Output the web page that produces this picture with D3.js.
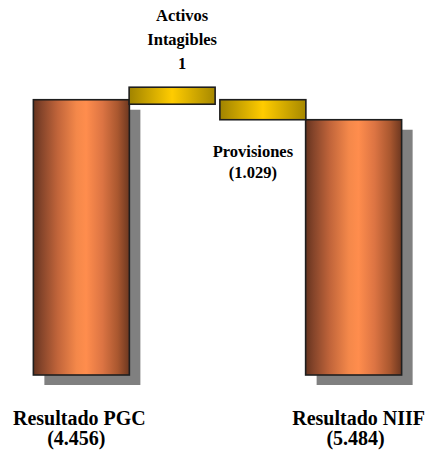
<!DOCTYPE html>
<html>
<head>
<meta charset="utf-8">
<script src="https://cdn.jsdelivr.net/npm/d3@7"></script>
<style>
  html, body { margin: 0; padding: 0; background: #ffffff; }
  svg { display: block; }
  text { font-family: "Liberation Serif", "DejaVu Serif", "Times New Roman", serif; font-weight: bold; fill: #000; }
</style>
</head>
<body>
<svg id="chart" width="428" height="450"></svg>
<script>
// Puente de resultados PGC -> NIIF (miles de euros, pérdidas entre paréntesis)
const categories = ["Resultado PGC", "Activos Intagibles", "Provisiones", "Resultado NIIF"];
const kinds      = ["total", "step", "step", "total"];
const values     = [-4456, 1, -1029, -5484];
const labelLines = [
  ["Resultado PGC", "(4.456)"],
  ["Activos", "Intagibles", "1"],
  ["Provisiones", "(1.029)"],
  ["Resultado NIIF", "(5.484)"]
];

// Running totals for the floating steps
let running = 0;
const rows = categories.map((c, i) => {
  let start, end;
  if (kinds[i] === "total") { start = null; end = values[i]; running = values[i]; }
  else { start = running; end = running + values[i]; running = end; }
  return { cat: c, kind: kinds[i], value: values[i], start, end, lines: labelLines[i] };
});

const svg = d3.select("#chart");
const baseY = 375;

const x = d3.scaleBand().domain(categories).range([36, 399]).paddingInner(0).paddingOuter(0);
// truncated value axis: the floor of the plot sits well below the results
const y = d3.scaleLinear().domain([-18600, 0]).range([baseY, 13]);

const defs = svg.append("defs");
const copper = defs.append("linearGradient").attr("id", "copper").attr("x1", "0%").attr("x2", "100%");
[[0, "#65331e"], [0.08, "#84442a"], [0.25, "#c0643a"], [0.45, "#f4884a"], [0.55, "#ff8d4d"],
 [0.72, "#dc7443"], [0.88, "#a9572f"], [1, "#6c3720"]]
  .forEach(([o, c]) => copper.append("stop").attr("offset", o).attr("stop-color", c));
const gold = defs.append("linearGradient").attr("id", "gold").attr("x1", "0%").attr("x2", "100%");
[[0, "#a08300"], [0.5, "#ffcc00"], [1, "#a68800"]]
  .forEach(([o, c]) => gold.append("stop").attr("offset", o).attr("stop-color", c));

const totalW = 96, stepW = 86, minStepH = 17;

const totals = rows.filter(d => d.kind === "total");
const steps = rows.filter(d => d.kind === "step");
const cx = d => x(d.cat) + x.bandwidth() / 2;

// drop shadows of the result columns
svg.append("g").selectAll("rect").data(totals).join("rect")
  .attr("x", d => cx(d) - totalW / 2 + 11)
  .attr("y", d => y(d.end) + 10)
  .attr("width", totalW)
  .attr("height", d => baseY - y(d.end))
  .attr("fill", "#808080");

// result columns
svg.append("g").selectAll("rect").data(totals).join("rect")
  .attr("x", d => cx(d) - totalW / 2)
  .attr("y", d => y(d.end))
  .attr("width", totalW)
  .attr("height", d => baseY - y(d.end))
  .attr("fill", "url(#copper)")
  .attr("stroke", "#1e1e1e")
  .attr("stroke-width", 1.6);

// floating adjustments (tiny steps get a minimum visible height)
const stepBox = d => {
  const a = y(d.start), b = y(d.end);
  let top = Math.min(a, b), h = Math.abs(a - b);
  if (h < minStepH) { top = (a + b) / 2 - minStepH / 2 - 4; h = minStepH; }
  return { top, h };
};
svg.append("g").selectAll("rect").data(steps).join("rect")
  .attr("x", d => cx(d) - stepW / 2)
  .attr("y", d => stepBox(d).top)
  .attr("width", stepW)
  .attr("height", d => stepBox(d).h)
  .attr("fill", "url(#gold)")
  .attr("stroke", "#1e1e1e")
  .attr("stroke-width", 1.6);

// labels under the result columns
const bottomShift = { "Resultado PGC": -2, "Resultado NIIF": 5 };
totals.forEach(d => {
  const t = svg.append("text").attr("text-anchor", "middle").attr("font-size", 20);
  d.lines.forEach((ln, i) => {
    t.append("tspan").attr("x", cx(d) + bottomShift[d.cat] - (i ? 3 : 0)).attr("y", 425 + i * 20).text(ln);
  });
});

// labels of the adjustments: rising step above, falling step below
steps.forEach(d => {
  const box = stepBox(d);
  const t = svg.append("text").attr("text-anchor", "middle").attr("font-size", 16.5);
  const n = d.lines.length;
  if (d.value >= 0) {
    d.lines.forEach((ln, i) => {
      t.append("tspan").attr("x", cx(d) + 10).attr("y", box.top - 18 - (n - 1 - i) * 24).text(ln);
    });
  } else {
    d.lines.forEach((ln, i) => {
      t.append("tspan").attr("x", cx(d) - 10).attr("y", box.top + box.h + 37 + i * 21).text(ln);
    });
  }
});
</script>
</body>
</html>
